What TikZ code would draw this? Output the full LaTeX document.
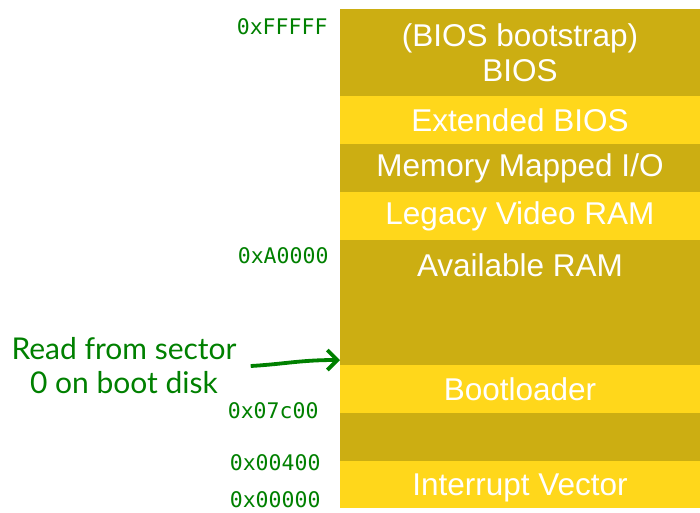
\documentclass[tikz,border=0pt]{standalone}
\usepackage{fontspec}
\setmainfont{Liberation Sans}
\newfontfamily\addrfont{DejaVu Sans Mono}
\newfontfamily\notefont{Lato}
\usetikzlibrary{positioning, arrows.meta}
\definecolor{bandDark}{RGB}{204,174,18}
\definecolor{bandLight}{RGB}{255,215,27}
\definecolor{noteGreen}{RGB}{0,128,0}
\begin{document}
\begin{tikzpicture}[x=1pt, y=1pt,
    node distance=0pt,
    band/.style={rectangle, inner sep=0pt, outer sep=0pt, align=center,
        minimum width=360pt, minimum height=48pt, text=white,
        font=\fontsize{31.5}{35}\selectfont},
    dark/.style={band, fill=bandDark},
    light/.style={band, fill=bandLight},
    addr/.style={anchor=east, text=noteGreen, font=\addrfont\fontsize{21.5}{24}\selectfont},
    note/.style={align=center, text=noteGreen, inner sep=0pt,
        font=\notefont\fontsize{30}{34}\selectfont},
    arrow/.style={-{Straight Barb[length=3.5mm, width=7mm]}, line width=3.8pt,
        draw=noteGreen}]
\useasboundingbox (0,0) rectangle (700,-512);
\node[dark, anchor=north, minimum height=87pt] (bios) at (520,-9) {(BIOS bootstrap)\\ BIOS};
\node[light, below=of bios] (extbios) {Extended BIOS};
\node[dark, below=of extbios] (mmio) {Memory Mapped I/O};
\node[light, below=of mmio] (vram) {Legacy Video RAM};
\node[dark, below=of vram, minimum height=125pt,
    label={[band, minimum height=0pt, anchor=center, yshift=-25pt]north:Available RAM}] (avail) {};
\node[light, below=of avail] (boot) {Bootloader};
\node[dark, below=of boot] (low) {};
\node[light, below=of low, minimum height=47pt, text height=28pt] (ivt) {Interrupt Vector};
\node[addr] (aFFFFF) at (331,-27) {0xFFFFF};
\node[addr] (aA0000) at (332,-256) {0xA0000};
\node[addr] (a07c00) at (322,-411) {0x07c00};
\node[addr] (a00400) at (324,-463) {0x00400};
\node[addr] (a00000) at (324,-500) {0x00000};
\node[note] (read) at (124,-366) {Read from sector\\ 0 on boot disk};
\coordinate (tip) at ([yshift=5pt]avail.south west);
\draw[arrow] ([xshift=14pt]read.east) .. controls (285,-364) and (300,-360) .. (tip);
\end{tikzpicture}
\end{document}
